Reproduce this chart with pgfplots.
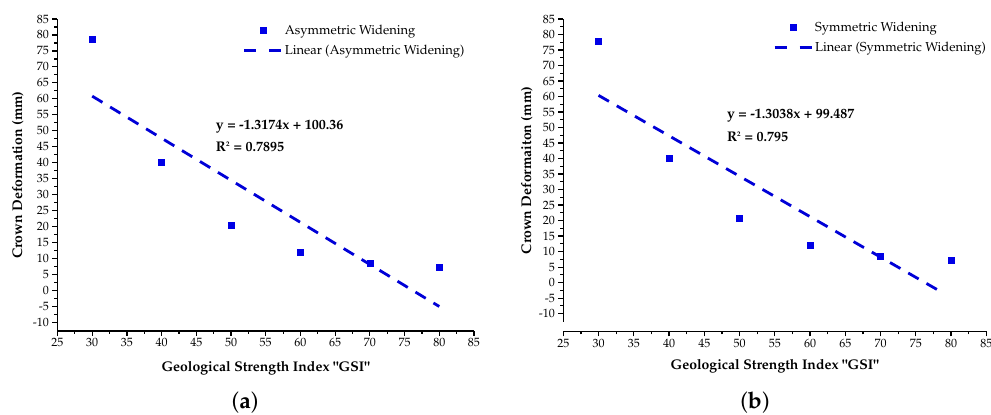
\documentclass[border=0pt]{standalone}
\usepackage[T1]{fontenc}
\usepackage{mathpazo}
\usepackage{pgfplots}
\pgfplotsset{compat=1.18}

\definecolor{ptblue}{RGB}{0,0,230}
\definecolor{lnblue}{RGB}{0,0,215}

\tikzset{eqn/.style={anchor=west, inner sep=0pt, font=\fontsize{14}{16}\selectfont\bfseries}}

\pgfplotsset{
  gsi/.style={
    scale only axis,
    axis lines*=left,
    axis line style={line width=1.5pt, black},
    xmin=25, xmax=85, ymin=-12.7, ymax=85,
    xtick={25,30,...,85}, ytick={-10,-5,...,85},
    minor x tick num=1, minor y tick num=1,
    tick align=outside,
    major tick length=5pt, minor tick length=3pt,
    every tick/.style={black, line width=1.2pt},
    tick label style={font=\fontsize{12}{13}\selectfont},
    xticklabel style={yshift=1pt},
    /pgf/number format/assume math mode=true,
    xlabel={Geological Strength Index "GSI"},
    xlabel style={font=\fontsize{14}{16}\selectfont\bfseries, anchor=center},
    ylabel style={font=\fontsize{14}{16}\selectfont\bfseries, anchor=center, rotate=0},
    legend cell align=left,
    legend style={draw=none, fill=none, anchor=north west,
      font=\fontsize{13}{15}\selectfont, inner sep=0pt, row sep=5pt},
    clip=false,
  },
  ptstyle/.style={only marks, mark=square*, mark size=3pt, color=ptblue,
    legend image code/.code={\draw[mark repeat=2,mark phase=2,##1] plot coordinates {(0pt,0pt)(18.5pt,0pt)(37pt,0pt)};}},
  lnstyle/.style={color=lnblue, line width=2.8pt, dash pattern=on 12pt off 9pt,
    legend image code/.code={\draw[##1, dash pattern=on 12pt off 13pt] (0pt,0pt) -- (37pt,0pt);}},
}

\begin{document}
\begin{tikzpicture}
\path[use as bounding box] (0,0) rectangle (991pt,415pt);

% (a) asymmetric widening
\begin{axis}[gsi,
  at={(57.5pt,84pt)}, anchor=south west,
  width=416.5pt, height=312pt,
  ylabel={Crown Deformation (mm)},
  xlabel style={at={(axis description cs:0.5,-0.119)}},
  ylabel style={at={(axis description cs:-0.095,0.5)}},
  legend style={at={(axis description cs:0.445,0.987)}},
]
\addplot[ptstyle] coordinates {
  (30,78.8) (40,40.3) (50,20.4) (60,12.0) (70,8.6) (80,7.3)
};
\addlegendentry{Asymmetric Widening}
\addplot[lnstyle] coordinates {(30,60.84) (80,-5.03)};
\addlegendentry{Linear (Asymmetric Widening)}
\node[eqn] at (axis cs:47.8,51.2) {y = -1.3174x + 100.36};
\node[eqn] at (axis cs:47.8,45.0) {R\textsuperscript{\scriptsize 2} = 0.7895};
\end{axis}

% (b) symmetric widening
\begin{axis}[gsi,
  at={(563.3pt,93pt)}, anchor=south west,
  width=423pt, height=303pt,
  axis x line shift=9.5pt,
  ylabel={Crown Deformaiton (mm)},
  xlabel style={at={(axis description cs:0.5,-0.145)}},
  ylabel style={at={(axis description cs:-0.086,0.5)}},
  legend style={at={(axis description cs:0.496,0.998)}},
]
\addplot[ptstyle] coordinates {
  (30,77.95) (40,40.15) (50,20.7) (60,12.1) (70,8.65) (80,7.15)
};
\addlegendentry{Symmetric Widening}
\addplot[lnstyle] coordinates {(30,60.37) (78.6,-2.99)};
\addlegendentry{Linear (Symmetric Widening)}
\node[eqn] at (axis cs:48.2,53.8) {y = -1.3038x + 99.487};
\node[eqn] at (axis cs:48.2,47.0) {R\textsuperscript{\scriptsize 2} = 0.795};
\end{axis}

\node[anchor=base, font=\fontsize{23}{26}\selectfont] at (245pt,6pt) {(\textbf{a})};
\node[anchor=base, font=\fontsize{23}{26}\selectfont] at (755pt,6pt) {(\textbf{b})};
\end{tikzpicture}
\end{document}
